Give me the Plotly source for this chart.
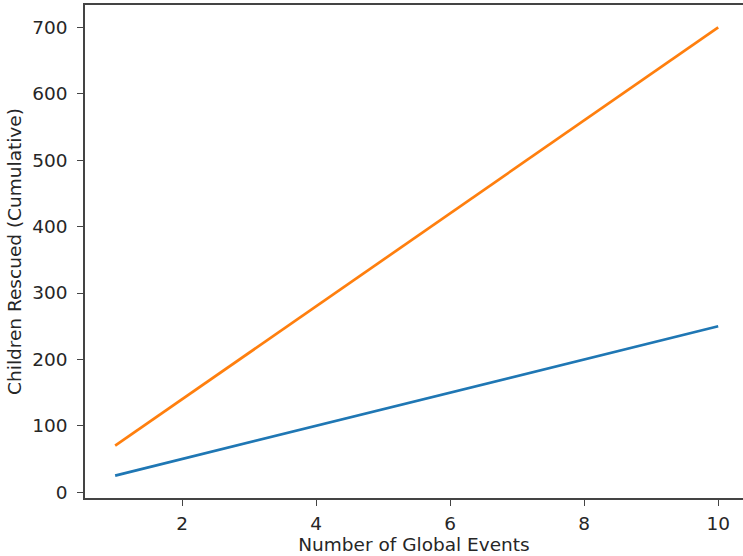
import plotly.graph_objects as go

events = [1, 2, 3, 4, 5, 6, 7, 8, 9, 10]
series_a = [25, 50, 75, 100, 125, 150, 175, 200, 225, 250]
series_b = [70, 140, 210, 280, 350, 420, 490, 560, 630, 700]
x_ticks = [2, 4, 6, 8, 10]
y_ticks = [0, 100, 200, 300, 400, 500, 600, 700]

FONT = "DejaVu Sans"
AX = "#444444"
FS = 18.5

fig = go.Figure()
fig.add_trace(go.Scatter(x=events, y=series_a, mode="lines",
                         line=dict(color="#1f77b4", width=2.7), showlegend=False))
fig.add_trace(go.Scatter(x=events, y=series_b, mode="lines",
                         line=dict(color="#ff7f0e", width=2.7), showlegend=False))

fig.update_layout(
    width=743, height=556,
    margin=dict(l=85, r=0, t=5, b=58),
    paper_bgcolor="white", plot_bgcolor="white",
    font=dict(family=FONT, size=FS, color="#262626"),
    xaxis=dict(range=[0.55, 10.37], tickvals=x_ticks, showgrid=False, zeroline=False,
               showline=True, mirror=True, linecolor=AX, linewidth=1.5,
               ticks="outside", ticklen=6, tickwidth=1.4, tickcolor=AX,
               ticklabelstandoff=2,
               title=dict(text="Number of Global Events", standoff=3,
                          font=dict(size=FS))),
    yaxis=dict(range=[-8.75, 733.75], tickvals=y_ticks, showgrid=False, zeroline=False,
               showline=True, mirror=False, linecolor=AX, linewidth=1.5,
               ticks="outside", ticklen=6, tickwidth=1.4, tickcolor=AX,
               ticklabelstandoff=6,
               title=dict(text="Children Rescued (Cumulative)", standoff=6,
                          font=dict(size=FS))),
)

fig.write_html(
    "out.html",
    config={"displayModeBar": False},
    post_script="document.body.style.margin='0';document.body.style.overflow='hidden';",
)
